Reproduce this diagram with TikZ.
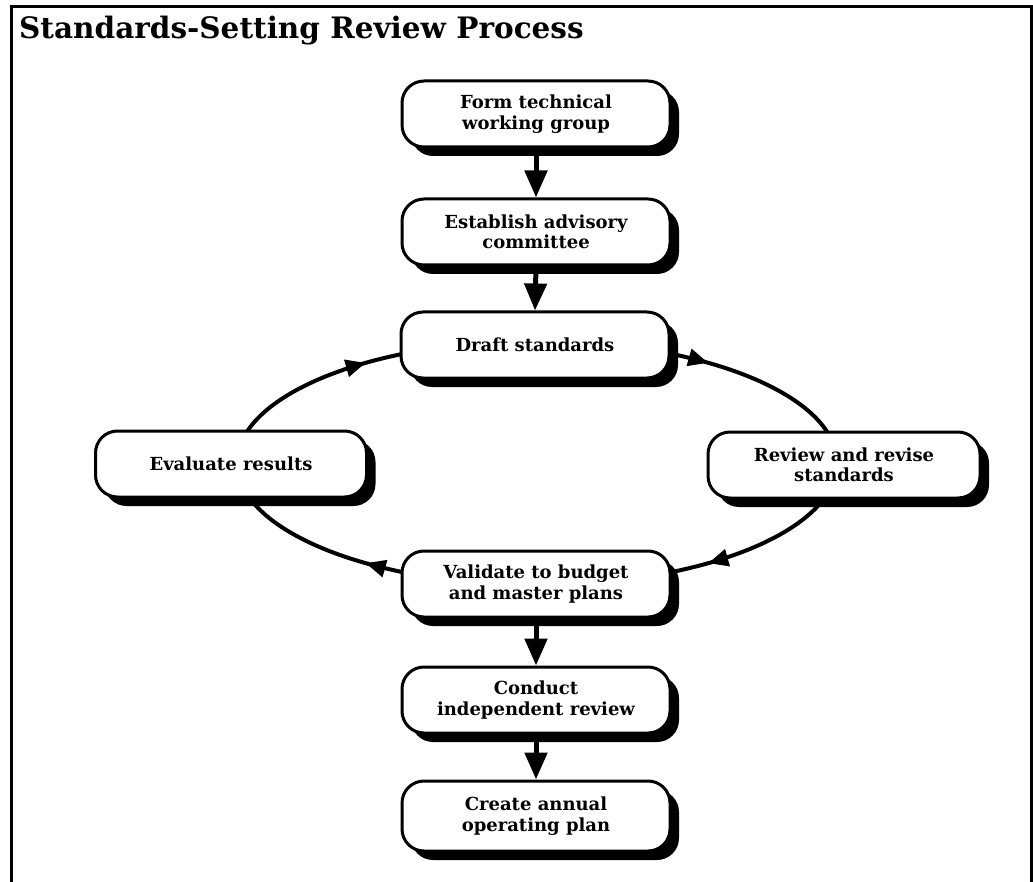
\documentclass[tikz,border=0pt]{standalone}
\usepackage{fontspec}
\setmainfont{DejaVu Serif}
\usetikzlibrary{arrows.meta,shadows,decorations.markings,backgrounds,calc}

\tikzset{
  stage/.style={draw, line width=3pt, fill=white, rounded corners=22pt,
    minimum width=268pt, minimum height=66pt, inner sep=0pt, align=center,
    font=\bfseries\fontsize{18}{20.5}\selectfont,
    drop shadow={shadow xshift=9pt, shadow yshift=-9pt, fill=black, opacity=1}},
  flow/.style={line width=5pt, -{Triangle[length=27pt,width=22pt]}},
  looparc/.style={line width=4pt, postaction={decorate},
    decoration={markings, mark=at position 0.5 with {\arrow{Triangle[length=20pt,width=17pt]}}}},
  frameline/.style={line width=3pt},
}

\begin{document}
\begin{tikzpicture}[x=1pt,y=-1pt]
\useasboundingbox (0,0) rectangle (1033,882);

% outer frame (open at the bottom)
\draw[frameline] (11,882) -- (11,7) -- (1031,7) -- (1031,882);

% heading
\node[anchor=base west, inner sep=0pt, font=\bfseries\fontsize{29.5}{34}\selectfont]
  (title) at (19,39) {Standards-Setting Review Process};

% process steps
\node[stage] (form)     at (536,114) {Form technical\\working group};
\node[stage] (estab)    at (536,232) {Establish advisory\\committee};
\node[stage] (draft)    at (535,345) {Draft standards};
\node[stage, minimum width=271pt] (evaluate) at (231,464) {Evaluate results};
\node[stage, minimum width=272pt] (review)   at (844,465) {Review and revise\\standards};
\node[stage] (validate) at (536,584) {Validate to budget\\and master plans};
\node[stage] (conduct)  at (536,700) {Conduct\\independent review};
\node[stage, minimum height=70pt] (create) at (536,816) {Create annual\\operating plan};

% straight flow
\draw[flow] (form.south) -- (estab.north);
\draw[flow] (estab.south) -- (draft.north);
\draw[flow] (validate.south) -- (conduct.north);
\draw[flow] (conduct.south) -- (create.north);

% review cycle, running clockwise behind the boxes
\coordinate (ring) at (537,463);
\begin{pgfonlayer}{background}
\draw[looparc] ($(ring)+(-90:300 and 122)$) arc[start angle=-90, end angle=0, x radius=300, y radius=122];
\draw[looparc] ($(ring)+(0:300 and 122)$) arc[start angle=0, end angle=90, x radius=300, y radius=122];
\draw[looparc] ($(ring)+(90:300 and 122)$) arc[start angle=90, end angle=180, x radius=300, y radius=122];
\draw[looparc] ($(ring)+(180:300 and 122)$) arc[start angle=180, end angle=270, x radius=300, y radius=122];
\end{pgfonlayer}
\end{tikzpicture}
\end{document}
